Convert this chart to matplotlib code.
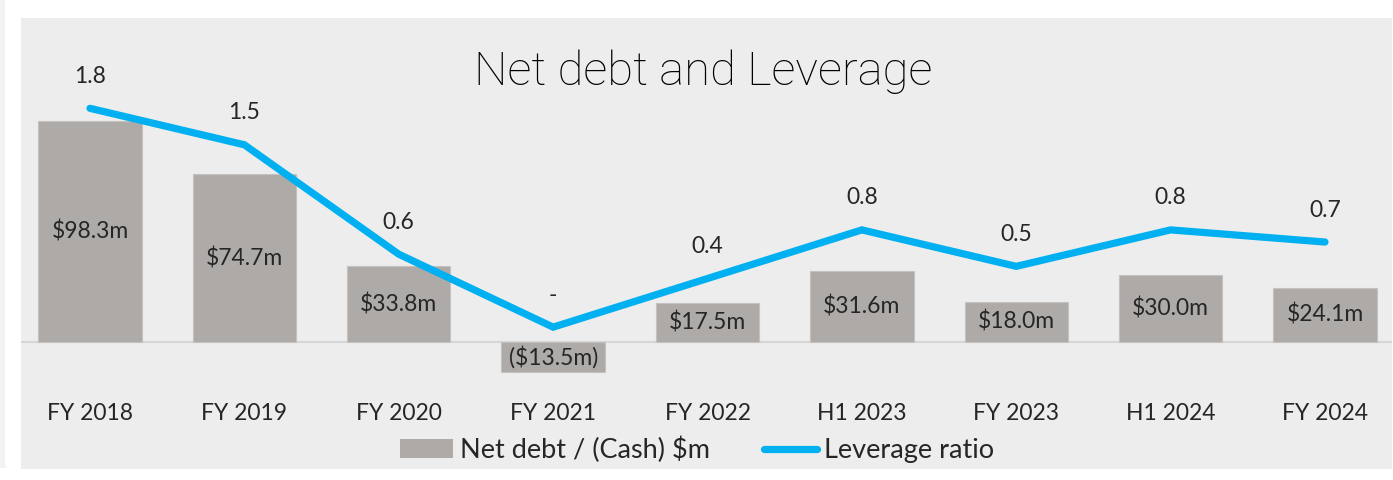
import matplotlib.pyplot as plt
import numpy as np
from matplotlib.patches import Patch, FancyBboxPatch
from matplotlib.lines import Line2D
import matplotlib.transforms as mtransforms

plt.rcParams['font.family'] = ['Lato', 'DejaVu Sans']

# periods, net debt ($m) and leverage ratio
periods = ["FY 2018", "FY 2019", "FY 2020", "FY 2021", "FY 2022",
           "H1 2023", "FY 2023", "H1 2024", "FY 2024"]
net_debt = [98.3, 74.7, 33.8, -13.5, 17.5, 31.6, 18.0, 30.0, 24.1]
leverage = [1.8, 1.5, 0.6, 0.0, 0.4, 0.8, 0.5, 0.8, 0.7]

BAR_COL = "#AEAAA8"
LINE_COL = "#00B0F0"
TXT_COL = "#262626"
PANEL = "#EDEDED"

W, H = 1393, 480
fig = plt.figure(figsize=(W / 100, H / 100), dpi=100, facecolor="#F2F2F2")

# white card behind the chart panel
card = FancyBboxPatch((5 / W, 3 / H), 1.2, 1.2, boxstyle="round,pad=0,rounding_size=0.012",
                      transform=fig.transFigure, facecolor="white", edgecolor="none",
                      mutation_aspect=W / H, zorder=-10)
fig.patches.append(card)
fig.patches.append(plt.Rectangle((0, 0), 1, 12 / H, transform=fig.transFigure,
                                 facecolor="white", edgecolor="none", zorder=-9))

ax = fig.add_axes([21 / W, 11 / H, 1 - 22 / W, 451 / H])
ax.set_facecolor(PANEL)
x = np.arange(len(periods))

bars = ax.bar(x, net_debt, width=0.67, color=BAR_COL, edgecolor="#C4C1BF", linewidth=0.8, zorder=2)
ax.axhline(0, color="#D6D6D6", lw=1.5, zorder=1)
ax.set_xlim(-0.447, 8.434)
ax.set_ylim(-56.4, 144)

bar_txt = [("$%.1fm" % v) if v >= 0 else ("($%.1fm)" % -v) for v in net_debt]
ax.bar_label(bars, labels=bar_txt, label_type="center", fontsize=16.5, color=TXT_COL, zorder=4)

# category labels under the axis
trans = mtransforms.blended_transform_factory(ax.transData, ax.transAxes)
for xi, p in zip(x, periods):
    ax.text(xi, (469 - 413) / 451, p, transform=trans, ha="center", va="center",
            fontsize=16.5, color=TXT_COL)

for s in ax.spines.values():
    s.set_visible(False)
ax.set_xticks([])
ax.set_yticks([])

# leverage on its own scale
ax2 = ax.twinx()
ax2.plot(x, leverage, color=LINE_COL, lw=5.2, solid_capstyle="round", solid_joinstyle="miter", zorder=3)
ax2.set_ylim(-1.167, 2.543)
for xi, v in zip(x, leverage):
    lab = "-" if v == 0 else "%.1f" % v
    ax2.annotate(lab, (xi, v), xytext=(0, 23), textcoords="offset points",
                 ha="center", va="center", fontsize=16.5, color=TXT_COL)
for s in ax2.spines.values():
    s.set_visible(False)
ax2.set_yticks([])

fig.text(703 / W, 1 - 72 / H, "Net debt and Leverage", ha="center", va="center",
         fontsize=34, color="black", family=["Roboto", "DejaVu Sans"], fontweight="light")

handles = [Patch(facecolor=BAR_COL, edgecolor="none"),
           Line2D([0], [0], color=LINE_COL, lw=5.2, solid_capstyle="round")]
fig.legend(handles, ["Net debt / (Cash) $m", "Leverage ratio"], loc="center",
           bbox_to_anchor=(697 / W, 1 - 450 / H), ncol=2, frameon=False,
           fontsize=19.5, handlelength=1.95, handletextpad=0.26, columnspacing=2.0,
           labelcolor=TXT_COL)

fig.savefig("out.png", dpi=100, facecolor=fig.get_facecolor())
